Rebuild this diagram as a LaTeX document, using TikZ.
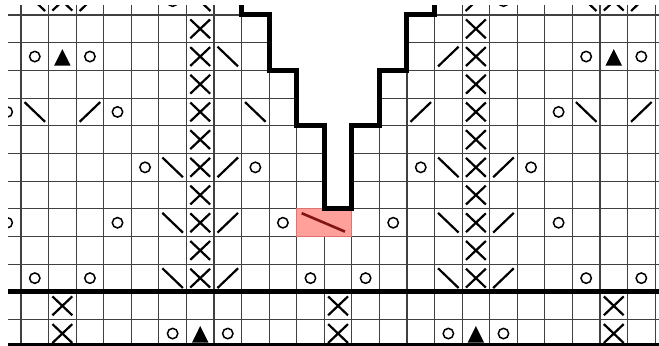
\documentclass[tikz,border=0pt]{standalone}
\definecolor{redfill}{RGB}{255,160,155}
\definecolor{redline}{RGB}{130,20,20}
\definecolor{redborder}{RGB}{225,115,110}
\tikzset{
  gridline/.style={line width=0.55pt, black!75},
  sym/.style={line width=1.1pt, black},
  circ/.style={line width=0.75pt, black},
  outline/.style={line width=2.5pt, black, line join=miter},
  thickrule/.style={line width=2.5pt, black},
}
\newcommand{\ko}[2]{\draw[circ] (#1-0.5,#2-0.5) circle[radius=2.6pt];}
\newcommand{\kx}[2]{\draw[sym] (#1-0.86,#2-0.84) -- (#1-0.14,#2-0.16) (#1-0.86,#2-0.16) -- (#1-0.14,#2-0.84);}
\newcommand{\kbs}[2]{\draw[sym] (#1-0.873,#2-0.856) -- (#1-0.127,#2-0.144);}
\newcommand{\kfs}[2]{\draw[sym] (#1-0.873,#2-0.144) -- (#1-0.127,#2-0.856);}
\newcommand{\ktri}[2]{\fill[black] (#1-0.5,#2-0.77) -- (#1-0.2,#2-0.17) -- (#1-0.8,#2-0.17) -- cycle;}
\begin{document}
\begin{tikzpicture}[x=0.5pt,y=-0.5pt]
\useasboundingbox (0,0) rectangle (659,346);
\fill[white] (0,0) rectangle (659,346);
\begin{scope}
\clip (8,5.5) rectangle (659,346);
\begin{scope}[shift={(10.5pt,-7.5pt)}, x={(13.785pt,0pt)}, y={(0pt,-13.85pt)}]
  % grid
  \foreach \k in {0,...,23} \draw[gridline] (\k,-1) -- (\k,12);
  \foreach \r in {0,...,11} \draw[gridline] (-1,\r) -- (24,\r);
  % no-stitch area
  \fill[white] (8,-1.2) -- (8,0) -- (9,0) -- (9,2) -- (10,2) -- (10,4) -- (11,4) -- (11,7)
     -- (12,7) -- (12,4) -- (13,4) -- (13,2) -- (14,2) -- (14,0) -- (15,0) -- (15,-1.2) -- cycle;
  % red decrease cell
  \draw[redborder, fill=redfill, line width=0.5pt] (10,7) rectangle (12,8);
  \draw[redline, line width=1.3pt] (10.18,7.155) -- (11.75,7.82);
  % X columns
  \foreach \r in {1,...,10} {\kx{7}{\r} \kx{17}{\r}}
  % row 0
  \kbs{1}{0} \kx{2}{0} \kfs{3}{0} \ko{6}{0} \kbs{7}{0}
  \kfs{17}{0} \ko{18}{0} \kbs{21}{0} \kx{22}{0} \kfs{23}{0}
  % row 2
  \ko{1}{2} \ktri{2}{2} \ko{3}{2} \kbs{8}{2} \kfs{16}{2} \ko{21}{2} \ktri{22}{2} \ko{23}{2}
  % row 4
  \ko{0}{4} \kbs{1}{4} \kfs{3}{4} \ko{4}{4} \kbs{9}{4} \kfs{15}{4} \ko{20}{4} \kbs{21}{4} \kfs{23}{4} \ko{24}{4}
  % row 6
  \ko{5}{6} \kbs{6}{6} \kfs{8}{6} \ko{9}{6} \ko{15}{6} \kbs{16}{6} \kfs{18}{6} \ko{19}{6}
  % row 8
  \ko{0}{8} \ko{4}{8} \kbs{6}{8} \kfs{8}{8} \ko{10}{8} \ko{14}{8} \kbs{16}{8} \kfs{18}{8} \ko{20}{8} \ko{24}{8}
  % row 10
  \ko{1}{10} \ko{3}{10} \kbs{6}{10} \kfs{8}{10} \ko{11}{10} \ko{13}{10} \kbs{16}{10} \kfs{18}{10} \ko{21}{10} \ko{23}{10}
  % row 11
  \kx{2}{11} \kx{12}{11} \kx{22}{11}
  % row 12
  \kx{2}{12} \ko{6}{12} \ktri{7}{12} \ko{8}{12} \kx{12}{12} \ko{16}{12} \ktri{17}{12} \ko{18}{12} \kx{22}{12}
  % outline of no-stitch area
  \draw[outline] (8,-1.2) -- (8,0) -- (9,0) -- (9,2) -- (10,2) -- (10,4) -- (11,4) -- (11,7)
     -- (12,7) -- (12,4) -- (13,4) -- (13,2) -- (14,2) -- (14,0) -- (15,0) -- (15,-1.2);
  % thick rules
  \draw[thickrule] (-1,10) -- (24,10);
  \draw[thickrule] (-1,11.92) -- (24,11.92);
\end{scope}
\end{scope}
\end{tikzpicture}
\end{document}
